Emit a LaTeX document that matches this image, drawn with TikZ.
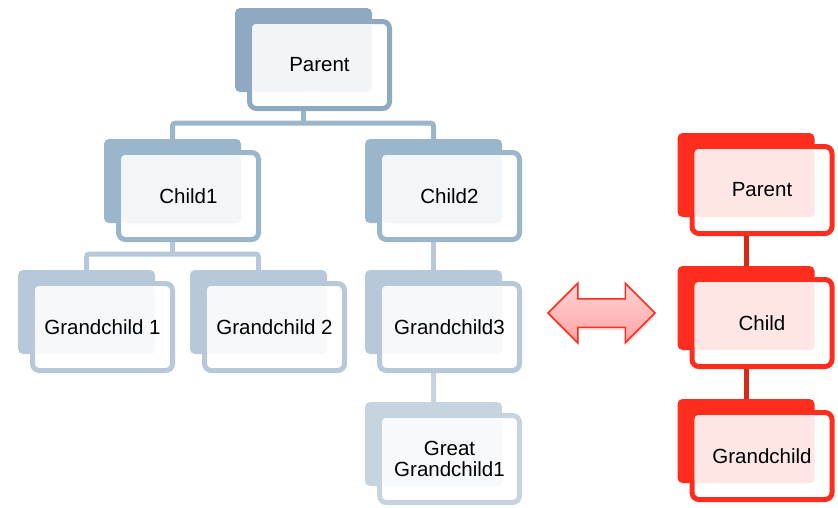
\documentclass[tikz,border=0pt]{standalone}
\usepackage{fontspec}
\setmainfont{Liberation Sans}
\usetikzlibrary{shapes,arrows,backgrounds,positioning,calc,shadows}
\definecolor{lev0}{HTML}{8EA9C1}
\definecolor{lev1}{HTML}{9BB5CA}
\definecolor{lev2}{HTML}{B6C8D9}
\definecolor{lev3}{HTML}{C6D4E0}
\definecolor{pale0}{HTML}{F2F4F7}
\definecolor{pale1}{HTML}{F3F6F9}
\definecolor{pale2}{HTML}{F6F8FA}
\definecolor{pale3}{HTML}{F7F9FB}
\definecolor{redbox}{HTML}{FF2D1E}
\definecolor{redpale}{HTML}{FEE6E4}
\definecolor{redlink}{HTML}{D42A18}
\tikzset{
  box_back/.style = {rectangle, rounded corners=5pt, inner sep=0pt, outer sep=0pt,
    minimum width=137pt, minimum height=84pt},% dark card behind
  box_front/.style = {rectangle, rounded corners=7pt, inner sep=0pt, outer sep=0pt,
    fill=white, line width=5pt, minimum width=140pt, minimum height=87pt},% outlined card
  box_txt/.style = {align=center, inner sep=0pt,
    font=\fontsize{20.5}{21}\selectfont},
  link/.style = {line width=5pt},
  dbl_arrow/.style = {double arrow, double arrow head extend=15.5pt,
    minimum height=107pt, text height=13.5pt, text depth=13.5pt, inner sep=0pt,
    draw=redbox, line width=1.5pt, top color=red!17, bottom color=red!36,
    drop shadow={opacity=0.2, shadow xshift=1pt, shadow yshift=-3pt}}
}
% name, centre of back card, text, dark colour, pale colour
\newcommand{\orgnode}[5]{%
  \node[box_back, fill=#4] (#1B) at (#2) {};
  \node[box_front, draw=#4] (#1F) at ($(#1B.center)+(16,15)$) {};
  \fill[#5, rounded corners=4pt] ($(#1F.north west)+(2.5,2.5)$) rectangle (#1B.south east);
  \node[box_txt] (#1) at (#1F.center) {#3};
}

\begin{document}
\begin{tikzpicture}[x=1pt,y=-1pt]
  \useasboundingbox (0,0) rectangle (838,507);

  \orgnode{parent}{303.5,50}{Parent}{lev0}{pale0}
  \orgnode{child1}{172.5,181}{Child1}{lev1}{pale1}
  \orgnode{child2}{433.5,181}{Child2}{lev1}{pale1}
  \orgnode{gc1}{86.5,312}{Grandchild 1}{lev2}{pale2}
  \orgnode{gc2}{258.5,312}{Grandchild 2}{lev2}{pale2}
  \orgnode{gc3}{433.5,312}{Grandchild3}{lev2}{pale2}
  \orgnode{ggc}{433.5,444}{Great\\Grandchild1}{lev3}{pale3}

  \node[dbl_arrow] (swap) at (601.5,313) {};

  \orgnode{rparent}{746,175}{Parent}{redbox}{redpale}
  \orgnode{rchild}{746,308}{Child}{redbox}{redpale}
  \orgnode{rgc}{746,441}{Grandchild}{redbox}{redpale}

  % junctions of the left tree
  \coordinate (j_top) at (parentB.center |- 0,123);
  \coordinate (j_c1) at (child1B.center |- 0,254);

  \begin{scope}[on background layer]
    \draw[link, lev1] (parentB.center) -- (j_top);
    \draw[link, lev1, rounded corners=3pt] (child1B.north) |- (j_top) -| (child2B.north);
    \draw[link, lev2] (child1B.center) -- (j_c1);
    \draw[link, lev2, rounded corners=3pt] (gc1B.north) |- (j_c1) -| (gc2B.north);
    \draw[link, lev2] (child2B.center) -- (gc3B.north);
    \draw[link, lev3] (gc3B.center) -- (ggcB.north);
    \draw[link, redlink] (rparentB.center) -- (rchildB.north);
    \draw[link, redlink] (rchildB.center) -- (rgcB.north);
  \end{scope}
\end{tikzpicture}
\end{document}
